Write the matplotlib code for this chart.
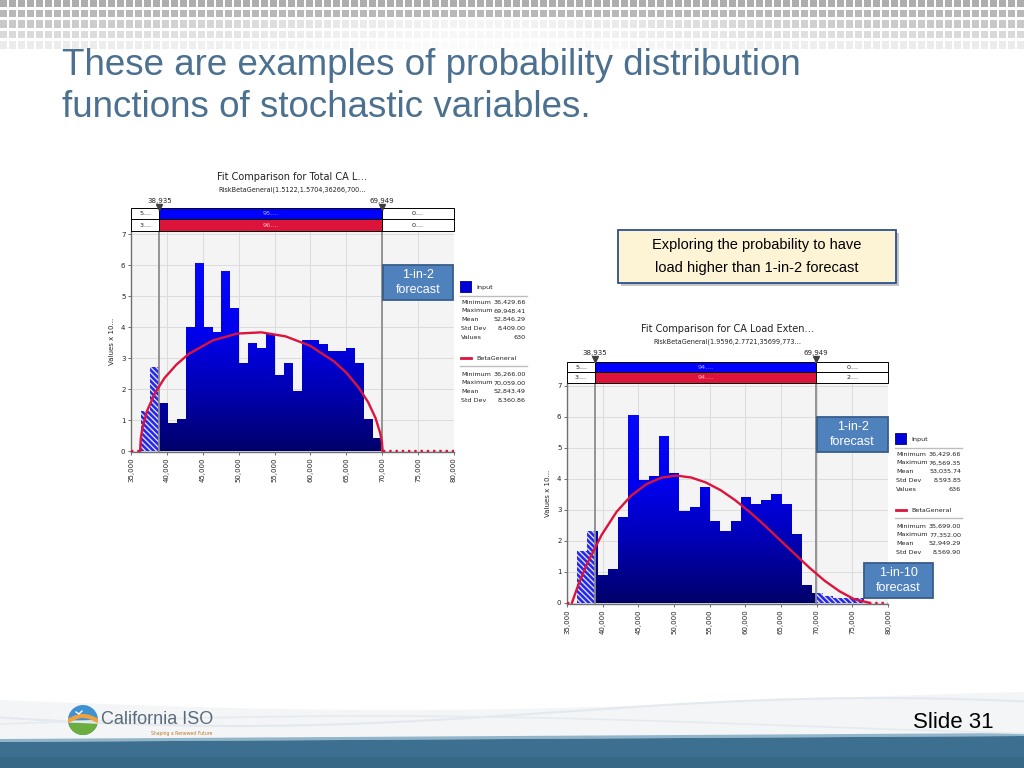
import numpy as np
import matplotlib
matplotlib.use('Agg')
import matplotlib.pyplot as plt
from matplotlib.patches import Rectangle, PathPatch, Circle, Wedge
from matplotlib.path import Path
from matplotlib.colors import LinearSegmentedColormap

plt.rcParams['font.family'] = 'DejaVu Sans'
plt.rcParams['hatch.linewidth'] = 1.0

W, H = 1024, 768

# ---- values ----
x_ticks = [35000, 40000, 45000, 50000, 55000, 60000, 65000, 70000, 75000, 80000]
y_ticks = [0, 1, 2, 3, 4, 5, 6, 7]

# left chart: Total CA load
left_counts = [1.30, 2.71, 1.56, 0.91, 1.03, 4.01, 6.07, 4.01, 3.85, 5.82, 4.62, 2.85, 3.49, 3.33,
               3.77, 2.47, 2.85, 1.95, 3.58, 3.58, 3.47, 3.24, 3.24, 3.31, 2.85, 1.03, 0.41]
left_min, left_max = 36429.66, 69948.41
left_lo, left_hi = 38935, 69949
left_fit_x = [36266, 36367, 36604, 37280, 38294, 39645, 41335, 43025, 46404, 49783, 53163, 56542,
              59921, 63300, 64990, 66680, 68031, 69045, 69721, 69958, 70059]
left_fit_y = [0, 0.41, 0.76, 1.32, 1.85, 2.35, 2.79, 3.13, 3.57, 3.79, 3.83, 3.70,
              3.40, 2.89, 2.53, 2.06, 1.58, 1.08, 0.58, 0.29, 0]
left_fit_lo, left_fit_hi = 36266, 70059
left_top_row = ['5....', '95....', '0....']
left_bottom_row = ['3....', '96....', '0....']
left_input_stats = ['36,429.66', '69,948.41', '52,846.29', '8,409.00', '630']
left_beta_stats = ['36,266.00', '70,059.00', '52,843.49', '8,360.86']

# right chart: CA load extended
right_counts = [1.67, 2.31, 0.89, 1.09, 2.76, 6.05, 3.95, 4.09, 5.38, 4.17, 2.96, 3.09, 3.73, 2.63,
                2.31, 2.63, 3.41, 3.18, 3.31, 3.49, 3.18, 2.21, 0.57, 0.30, 0.22, 0.16, 0.14, 0.14]
right_min, right_max = 36429.66, 76569.35
right_lo, right_hi = 38935, 69949
right_fit_x = [35699, 36532, 37782, 39864, 41947, 44030, 46112, 48195, 50278, 52360, 54443,
               56526, 58608, 60691, 62773, 64856, 66939, 69021, 71104, 73187, 75269, 77352]
right_fit_y = [0, 0.54, 1.24, 2.19, 2.93, 3.46, 3.82, 4.03, 4.10, 4.04, 3.88,
               3.63, 3.30, 2.91, 2.48, 2.02, 1.57, 1.12, 0.71, 0.37, 0.11, 0]
right_fit_lo, right_fit_hi = 35699, 77352
right_top_row = ['5....', '94....', '0....']
right_bottom_row = ['3....', '94....', '2....']
right_input_stats = ['36,429.66', '76,569.35', '53,035.74', '8,593.85', '636']
right_beta_stats = ['35,699.00', '77,352.00', '52,949.29', '8,569.90']

stat_names_input = ['Minimum', 'Maximum', 'Mean', 'Std Dev', 'Values']
stat_names_beta = ['Minimum', 'Maximum', 'Mean', 'Std Dev']

red = '#dc143c'
bar_cmap = LinearSegmentedColormap.from_list(
    'bars', [(0, '#00006a'), (0.3, '#0000b8'), (0.55, '#0000ee'), (1, '#0c0cff')])


def rect(x0, y0, x1, y1):
    # pixel box (top-left origin) -> figure fraction
    return [x0 / W, 1 - y1 / H, (x1 - x0) / W, (y1 - y0) / H]


def draw_chart(fig, ov, box, tbox, counts, vmin, vmax, lo, hi, fit_x, fit_y, fit_lo, fit_hi,
               top_row, bottom_row, title, subtitle, tri_px, label_px, title_px):
    x0, y0, x1, y1 = box
    ymin = -0.03
    ymax = ymin + (y1 - y0) / 31.0

    ax = fig.add_axes(rect(*box), zorder=2)
    ax.set_facecolor('#f4f4f4')

    # histogram, split at the two markers
    n = len(counts)
    width = (vmax - vmin) / n
    verts, codes = [], []
    for i, c in enumerate(counts):
        b0 = vmin + i * width
        b1 = b0 + width
        if b0 < lo:
            ax.bar(b0, c, min(b1, lo) - b0, align='edge', color='#2626e6',
                   edgecolor='#d8dcff', hatch='\\' * 6, linewidth=0, zorder=3)
        if b1 > hi:
            s = max(b0, hi)
            ax.bar(s, c, b1 - s, align='edge', color='#2626e6',
                   edgecolor='#d8dcff', hatch='\\' * 6, linewidth=0, zorder=3)
        s0, s1 = max(b0, lo), min(b1, hi)
        if s1 > s0:
            verts += [(s0, 0), (s1, 0), (s1, c), (s0, c), (s0, 0)]
            codes += [Path.MOVETO, Path.LINETO, Path.LINETO, Path.LINETO, Path.CLOSEPOLY]

    grad = np.linspace(0, 1, 256).reshape(-1, 1)
    im = ax.imshow(grad, extent=(35000, 80000, 0, 7), origin='lower', cmap=bar_cmap,
                   aspect='auto', zorder=3)
    im.set_clip_path(PathPatch(Path(verts, codes), transform=ax.transData))

    # fitted beta curve
    ax.plot(fit_x, fit_y, color=red, lw=1.7, zorder=5)
    ax.plot([35000, fit_lo], [0, 0], color=red, lw=1.7, ls=':', zorder=5)
    ax.plot([fit_hi, 80000], [0, 0], color=red, lw=1.7, ls=':', zorder=5)

    ax.axvline(lo, color='#8c8c8c', lw=1.3, zorder=4)
    ax.axvline(hi, color='#8c8c8c', lw=1.3, zorder=4)

    ax.set_xlim(35000, 80000)
    ax.set_ylim(ymin, ymax)
    ax.set_xticks(x_ticks)
    ax.set_xticklabels([f'{t:,}' for t in x_ticks], rotation=90)
    ax.set_yticks(y_ticks)
    ax.tick_params(labelsize=5, length=2.5, width=0.6, colors='#555', labelcolor='#222', pad=1.5)
    ax.grid(color='#dcdcdc', lw=0.7)
    ax.set_axisbelow(True)
    for s in ['top', 'right']:
        ax.spines[s].set_visible(False)
    for s in ['left', 'bottom']:
        ax.spines[s].set_color('#707070')
        ax.spines[s].set_linewidth(1.0)
    ax.set_ylabel('Values x 10...', fontsize=5, labelpad=4, color='#222')

    # percentage bars above the plot
    at = fig.add_axes(rect(*tbox), zorder=2)
    at.set_xlim(35000, 80000)
    at.set_ylim(0, 2)
    at.axis('off')
    cells = [(35000, lo), (lo, hi), (hi, 80000)]
    for row, texts, mid_fc, mid_tc in [(1, top_row, '#0000ff', '#aab0ff'),
                                       (0, bottom_row, red, '#ffb4c0')]:
        for j, (c0, c1) in enumerate(cells):
            fc = mid_fc if j == 1 else 'white'
            tc = mid_tc if j == 1 else '#222'
            at.add_patch(Rectangle((c0, row), c1 - c0, 1, fc=fc, ec='black', lw=0.7,
                                   clip_on=False))
            at.text((c0 + c1) / 2, row + 0.5, texts[j], ha='center', va='center',
                    fontsize=4.6, color=tc)

    ty0, ty1 = tbox[1], tbox[3]
    trans = at.get_xaxis_transform()
    tri_f = 1 + (ty0 - tri_px) / (ty1 - ty0)
    lab_f = 1 + (ty0 - label_px) / (ty1 - ty0)
    for m in [lo, hi]:
        at.plot([m, m], [1, tri_f], color='#8c8c8c', lw=1.3, transform=trans, clip_on=False)
        at.plot(m, tri_f, marker='v', ms=4.5, color='#404040', transform=trans, clip_on=False)
        at.text(m, lab_f, f'{m:,}', ha='center', va='center', fontsize=5, transform=trans,
                color='#222')

    cx = (x0 + x1) / 2
    ov.text(cx, title_px, title, ha='center', va='center', fontsize=7, color='#222')
    ov.text(cx, title_px + 12.5, subtitle, ha='center', va='center', fontsize=4.7, color='#222')
    return ax


def draw_legend(ov, x0, y0, input_stats, beta_stats):
    fs = 4.6
    ov.add_patch(Rectangle((x0, y0 - 6), 11, 11, fc='#0000d8', ec='#00007a', lw=0.6))
    ov.text(x0 + 16, y0, 'Input', fontsize=fs, va='center', color='#222')
    ov.plot([x0, x0 + 67], [y0 + 8.7, y0 + 8.7], color='#bdbdbd', lw=1)
    for i, (name, val) in enumerate(zip(stat_names_input, input_stats)):
        yy = y0 + 15.3 + i * 8.7
        ov.text(x0 + 1, yy, name, fontsize=fs, va='center', color='#222')
        ov.text(x0 + 66, yy, val, fontsize=fs, va='center', ha='right', color='#222')
    yb = y0 + 71
    ov.plot([x0 + 1, x0 + 11], [yb, yb], color=red, lw=2)
    ov.text(x0 + 16, yb, 'BetaGeneral', fontsize=fs, va='center', color='#222')
    ov.plot([x0, x0 + 67], [yb + 7.5, yb + 7.5], color='#bdbdbd', lw=1)
    for i, (name, val) in enumerate(zip(stat_names_beta, beta_stats)):
        yy = yb + 16.3 + i * 8.7
        ov.text(x0 + 1, yy, name, fontsize=fs, va='center', color='#222')
        ov.text(x0 + 66, yy, val, fontsize=fs, va='center', ha='right', color='#222')


def callout(ov, x, y, w, h, lines, fc, ec, tc, fs, shadow=True):
    if shadow:
        ov.add_patch(Rectangle((x + 2.5, y + 2.5), w, h, fc='#7f7f7f', ec='none', alpha=0.45))
    ov.add_patch(Rectangle((x, y), w, h, fc=fc, ec=ec, lw=1.3))
    step = h / (len(lines) + 0.2)
    for k, line in enumerate(lines):
        ov.text(x + w / 2, y + h / 2 + (k - (len(lines) - 1) / 2) * step * 0.98, line,
                ha='center', va='center', fontsize=fs, color=tc, family='Liberation Sans')


fig = plt.figure(figsize=(W / 100, H / 100), dpi=100)

# ---- slide background ----
bg = fig.add_axes([0, 0, 1, 1], zorder=0)
bg.set_xlim(0, W)
bg.set_ylim(H, 0)
bg.axis('off')

# grey tile pattern at the top
row_shade = [0.68, 0.72, 0.78, 0.85, 0.92]
for r, g in enumerate(row_shade):
    ty = r * 10.5 - 1
    for c in range(115):
        tx = c * 9
        shade = g
        if r >= 2:
            shade = g + (1 - g) * 0.8 * np.exp(-((tx - 480) / 260.0) ** 2)
        bg.add_patch(Rectangle((tx, ty), 7, 7.5, fc=(shade, shade, shade), ec='none'))

# footer swoosh and band
xs = np.linspace(0, W, 300)
band_top = 742 - 6 * xs / W
bg.fill_between(xs, 700 + 10 * np.sin(xs / W * np.pi * 1.3), band_top, color='#f3f5f7', lw=0)
bg.plot(xs, 712 + 14 * np.sin(xs / W * np.pi * 1.6 + 0.4), color='#e3e9ee', lw=1.5)
bg.plot(xs, 726 - 10 * np.sin(xs / W * np.pi * 1.2 + 0.2), color='#e6ebef', lw=1.2)
bg.fill_between(xs, band_top - 3, band_top, color='#93b5ca', lw=0)
bg.fill_between(xs, band_top, H, color='#3d7090', lw=0)
bg.fill_between(xs, 757, H, color='#34647f', lw=0, alpha=0.6)

# California ISO logo
lcx, lcy, lr = 83, 720, 15
disc = Circle((lcx, lcy), lr, fc='#3f92d2', ec='none')
bg.add_patch(disc)
bg.add_patch(Wedge((lcx, lcy), lr, 15, 165, fc='#6cae3e', ec='none'))
sw_x = np.linspace(lcx - lr, lcx + lr, 40)
sw = bg.plot(sw_x, lcy + 1 - 5 * np.sin((sw_x - lcx + lr) / (2 * lr) * np.pi), color='#f2a03a', lw=3)[0]
sw.set_clip_path(disc)
bg.plot([lcx - 7, lcx - 4, lcx - 1], [lcy - 8, lcy - 6, lcy - 9], color='white', lw=1)
bg.text(101, 719, 'California ISO', fontsize=13, color='#5a6a78', va='center',
        family='Liberation Sans')
bg.text(151, 733, 'Shaping a Renewed Future', fontsize=3.3, color='#c07a2a', va='center')
bg.text(994, 728, 'Slide 31', fontsize=16, color='black', ha='right', va='baseline',
        family='Liberation Sans')

# overlay for titles, legends and callouts
ov = fig.add_axes([0, 0, 1, 1], zorder=5)
ov.set_xlim(0, W)
ov.set_ylim(H, 0)
ov.axis('off')

title_color = '#4c7090'
ov.text(62, 75, 'These are examples of probability distribution', fontsize=26.5,
        color=title_color, va='baseline', family='Liberation Sans')
ov.text(62, 117, 'functions of stochastic variables.', fontsize=26.5,
        color=title_color, va='baseline', family='Liberation Sans')

draw_chart(fig, ov, (131, 231, 454, 452), (131, 208.3, 454, 230.7), left_counts,
           left_min, left_max, left_lo, left_hi, left_fit_x, left_fit_y,
           left_fit_lo, left_fit_hi, left_top_row, left_bottom_row,
           'Fit Comparison for Total CA L…', 'RiskBetaGeneral(1.5122,1.5704,36266,700…',
           207, 201, 177)
draw_chart(fig, ov, (567, 383.5, 888, 603.6), (567, 361.7, 888, 383.3), right_counts,
           right_min, right_max, right_lo, right_hi, right_fit_x, right_fit_y,
           right_fit_lo, right_fit_hi, right_top_row, right_bottom_row,
           'Fit Comparison for CA Load Exten…', 'RiskBetaGeneral(1.9596,2.7721,35699,773…',
           359.5, 353.3, 329.5)

draw_legend(ov, 460, 287, left_input_stats, left_beta_stats)
draw_legend(ov, 895, 439, right_input_stats, right_beta_stats)

callout(ov, 618, 230, 278, 53, ['Exploring the probability to have', 'load higher than 1-in-2 forecast'],
        '#fdf4d6', '#2c4f8c', 'black', 10.5)
callout(ov, 383, 265, 70, 35, ['1-in-2', 'forecast'], '#4f81bd', '#385d8a', 'white', 9, shadow=False)
callout(ov, 817, 417, 71, 35, ['1-in-2', 'forecast'], '#4f81bd', '#385d8a', 'white', 9, shadow=False)
callout(ov, 864, 563, 69, 35, ['1-in-10', 'forecast'], '#4f81bd', '#385d8a', 'white', 9, shadow=False)

fig.savefig('out.png', dpi=100)
